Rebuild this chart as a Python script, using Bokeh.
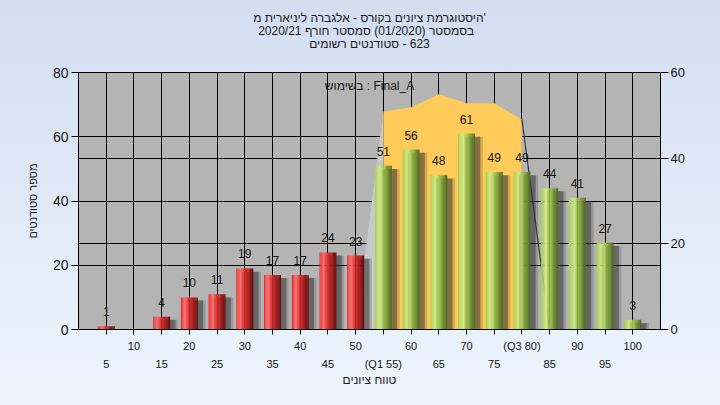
from bokeh.plotting import figure
from bokeh.layouts import column
from bokeh.models import (Range1d, LinearAxis, FixedTicker, Grid, Label,
                          ColumnDataSource, GlobalInlineStyleSheet)
from bokeh.transform import dodge
from bokeh.embed import file_html
from bokeh.resources import INLINE

# ---------------- data ----------------
grades = [5, 10, 15, 20, 25, 30, 35, 40, 45, 50, 55, 60, 65, 70, 75, 80, 85, 90, 95, 100]
counts = [1, 0, 4, 10, 11, 19, 17, 17, 24, 23, 51, 56, 48, 61, 49, 49, 44, 41, 27, 3]
pass_grade = 55

row_a_ticks = [10, 20, 30, 40, 50, 60, 70, 80, 90, 100]
row_a_labels = ["10", "20", "30", "40", "50", "60", "70", "(Q3 80)", "90", "100"]
row_b_ticks = [5, 15, 25, 35, 45, 55, 65, 75, 85, 95]
row_b_labels = ["5", "15", "25", "35", "45", "(Q1 55)", "65", "75", "85", "95"]

left_ticks = [0, 20, 40, 60, 80]
right_ticks = [0, 20, 40, 60]

# curve (right axis units); Q1..Q3 part highlighted
curve_x = [50, 55, 60, 65, 70, 75, 80, 85]
curve_y = [0, 50.9, 51.9, 54.9, 52.8, 52.8, 49.0, 0]

title_lines = ["היסטוגרמת ציונים בקורס - אלגברה ליניארית מ'",
               "בסמסטר  (01/2020)  סמסטר חורף 2020/21",
               "סטודנטים רשומים\u200e - 623"]
legend_text = "בשימוש : Final_A"
x_title = "טווח ציונים"
y_title = "מספר סטודנטים"

FONT = "Liberation Sans"
W = 704
TITLE_H = 60

# ---------------- title strip ----------------
t = figure(width=W, height=TITLE_H, x_range=Range1d(0, 105), y_range=Range1d(TITLE_H, 0),
           output_backend="svg", toolbar_location=None, x_axis_type=None, y_axis_type=None,
           min_border_left=78, min_border_right=44, min_border_top=0, min_border_bottom=0,
           background_fill_alpha=0, border_fill_alpha=0, outline_line_color=None)
t.grid.visible = False
t.text(x=[52.5] * 3, y=[17, 30, 43], text=title_lines, text_align="center",
       text_baseline="middle", text_font={"value": FONT}, text_font_size="12px",
       text_color="#181818")

# ---------------- main figure ----------------
p = figure(width=W, height=389 - TITLE_H, x_range=Range1d(0, 105), y_range=Range1d(0, 80),
           output_backend="svg", toolbar_location=None,
           min_border_left=78, min_border_right=44, min_border_top=72 - TITLE_H,
           min_border_bottom=60,
           background_fill_color="#b4b4b4", border_fill_alpha=0,
           outline_line_color="black", outline_line_width=1)
p.extra_y_ranges = {"right": Range1d(0, 60)}

# grids
p.xgrid.ticker = FixedTicker(ticks=grades)
p.xgrid.grid_line_color = "black"
p.xgrid.grid_line_alpha = 1
p.ygrid.ticker = FixedTicker(ticks=[20, 40, 60])
p.ygrid.grid_line_color = "black"
p.ygrid.grid_line_alpha = 1
p.add_layout(Grid(dimension=1, ticker=FixedTicker(ticks=[20, 40]), y_range_name="right",
                  grid_line_color="black", grid_line_alpha=1))

# left axis
ya = p.yaxis[0]
ya.ticker = FixedTicker(ticks=left_ticks)
ya.major_tick_out = 7
ya.major_tick_in = 0
ya.minor_tick_line_color = None
ya.major_label_standoff = 3
ya.major_label_text_font = FONT
ya.major_label_text_font_size = "14px"
ya.major_label_text_color = "#151515"
ya.axis_label = y_title
ya.axis_label_text_font = FONT
ya.axis_label_text_font_size = "11px"
ya.axis_label_text_font_style = "normal"
ya.axis_label_text_color = "#202020"
ya.axis_label_standoff = 11
ya.axis_line_color = "black"

# right axis
ra = LinearAxis(y_range_name="right", ticker=FixedTicker(ticks=right_ticks),
                major_tick_out=8, major_tick_in=0, minor_tick_line_color=None,
                major_label_standoff=2, major_label_text_font=FONT,
                major_label_text_font_size="13px", major_label_text_color="#151515")
p.add_layout(ra, "right")

# bottom axis, first row of labels
xa = p.xaxis[0]
xa.ticker = FixedTicker(ticks=grades)
ov = {tk: "" for tk in row_b_ticks}
ov.update({tk: l for tk, l in zip(row_a_ticks, row_a_labels)})
xa.major_label_overrides = ov
xa.major_tick_out = 5
xa.major_tick_in = 0
xa.minor_tick_line_color = None
xa.major_label_standoff = 5
xa.major_label_text_font = FONT
xa.major_label_text_font_size = "11px"
xa.major_label_text_color = "#151515"
xa.axis_line_color = "black"

# second row of labels
xb = LinearAxis(ticker=FixedTicker(ticks=row_b_ticks),
                major_label_overrides={tk: l for tk, l in zip(row_b_ticks, row_b_labels)},
                major_tick_out=0, major_tick_in=0, minor_tick_line_color=None,
                axis_line_color=None, major_tick_line_color=None,
                major_label_standoff=3, major_label_text_font=FONT,
                major_label_text_font_size="11px", major_label_text_color="#151515",
                axis_label=x_title, axis_label_text_font=FONT,
                axis_label_text_font_size="12px", axis_label_text_font_style="normal",
                axis_label_text_color="#202020", axis_label_standoff=0)
p.add_layout(xb, "below")

# ---------------- curve area ----------------
n = len(curve_x)
p.patch(x=[curve_x[0], curve_x[1], curve_x[1]], y=[curve_y[0], curve_y[1], 0],
        y_range_name="right", fill_color="#c9c9c9", line_color=None)
p.patch(x=curve_x[1:n - 1] + [curve_x[n - 2], curve_x[1]],
        y=curve_y[1:n - 1] + [0, 0],
        y_range_name="right", fill_color="#fecb5b", line_color=None)
p.line(x=curve_x[n - 2:], y=curve_y[n - 2:], y_range_name="right",
       line_color="#3a3a3a", line_width=1.2)

# ---------------- bars ----------------
def interp(stops, f0):
    for (t0, c0), (t1, c1) in zip(stops, stops[1:]):
        if t0 <= f0 <= t1:
            f = (f0 - t0) / (t1 - t0)
            return "#%02x%02x%02x" % tuple(int(round(a + (b - a) * f)) for a, b in zip(c0, c1))
    return "#%02x%02x%02x" % stops[-1][1]

red_stops = [(0, (232, 44, 44)), (0.25, (255, 108, 108)), (0.5, (226, 42, 42)), (1.0, (100, 12, 12))]
green_stops = [(0, (168, 206, 78)), (0.3, (212, 234, 142)), (0.55, (156, 196, 76)), (1.0, (78, 102, 36))]

BW = 3.06
NS = 14
data = dict(x=grades, top=counts,
            stop=[max(c - 1.0, 0) if c > 0 else 0 for c in counts])
for i in range(NS):
    f0 = (i + 0.5) / NS
    data[f"c{i}"] = [interp(red_stops, f0) if g < pass_grade else interp(green_stops, f0) for g in grades]
src = ColumnDataSource(data)

# shadows
p.vbar(x=dodge("x", 1.4, range=p.x_range), top="stop", width=BW, bottom=0, source=src,
       fill_color="#2a2a2a", fill_alpha=0.2, line_color=None)
p.vbar(x=dodge("x", 0.95, range=p.x_range), top="stop", width=BW, bottom=0, source=src,
       fill_color="#2a2a2a", fill_alpha=0.45, line_color=None)

for i in range(NS):
    off = -BW / 2 + (i + 0.5) * BW / NS
    p.vbar(x=dodge("x", off, range=p.x_range), top="top", width=BW / NS * 1.08, bottom=0,
           source=src, fill_color=f"c{i}", line_color=None)

lab_idx = [k for k, c in enumerate(counts) if c > 0]
lsrc = ColumnDataSource(dict(x=[grades[k] for k in lab_idx], y=[counts[k] for k in lab_idx],
                             t=[str(counts[k]) for k in lab_idx]))
p.text(x="x", y="y", text="t", source=lsrc, text_align="center", text_baseline="bottom",
       y_offset=-10, text_font_size="12px", text_color="#141414",
       text_font={"value": FONT})

# ---------------- legend text ----------------
p.add_layout(Label(x=52.5, y=75.9, text=legend_text, text_align="center",
                   text_baseline="middle", text_font=FONT, text_font_size="12px",
                   text_color="#181818"))

page = column(t, p, spacing=0)
page.stylesheets = [GlobalInlineStyleSheet(css=(
    "html{height:100%;background:linear-gradient(180deg,#d2def0 0%,#eef5fd 100%);}"
    "body{background:transparent;margin:0;}"))]

open("out.html", "w").write(file_html(page, INLINE))
